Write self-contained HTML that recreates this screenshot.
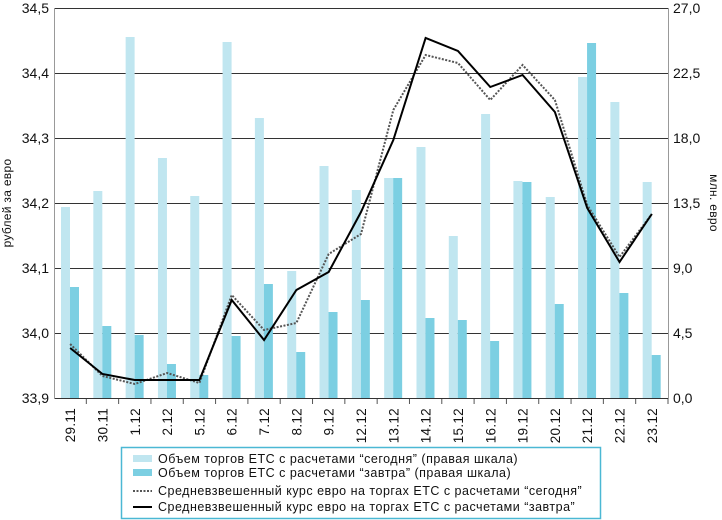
<!DOCTYPE html><html><head><meta charset="utf-8"><style>body{margin:0;background:#fff}svg{display:block}text{font-family:"Liberation Sans",sans-serif;fill:#111}</style></head><body>
<svg width="722" height="520" xmlns="http://www.w3.org/2000/svg">
<g stroke="#333" stroke-width="1">
<line x1="54" y1="8.5" x2="668" y2="8.5"/><line x1="54" y1="73.5" x2="668" y2="73.5"/><line x1="54" y1="138.5" x2="668" y2="138.5"/><line x1="54" y1="203.5" x2="668" y2="203.5"/><line x1="54" y1="268.5" x2="668" y2="268.5"/><line x1="54" y1="333.5" x2="668" y2="333.5"/>
</g>
<g id="bars"></g>
<line x1="54" y1="398.5" x2="668" y2="398.5" stroke="#333"/>
<line x1="54.5" y1="8" x2="54.5" y2="399" stroke="#999"/>
<line x1="668.5" y1="8" x2="668.5" y2="399" stroke="#999"/>
<g id="ticks" stroke="#555"></g>
<polyline id="dot" fill="none" stroke="#555" stroke-width="2" stroke-dasharray="2,1.5"/>
<polyline id="sol" fill="none" stroke="#000" stroke-width="2"/>
<g font-size="14" text-anchor="end">
<text x="49" y="13">34,5</text><text x="49" y="78">34,4</text><text x="49" y="143">34,3</text><text x="49" y="208">34,2</text><text x="49" y="273">34,1</text><text x="49" y="338">34,0</text><text x="49" y="403">33,9</text>
</g>
<g font-size="14">
<text x="673" y="13">27,0</text><text x="673" y="78">22,5</text><text x="673" y="143">18,0</text><text x="673" y="208">13,5</text><text x="673" y="273">9,0</text><text x="673" y="338">4,5</text><text x="673" y="403">0,0</text>
</g>
<text font-size="12" letter-spacing="0.3" transform="translate(11,203) rotate(-90)" text-anchor="middle">рублей за евро</text>
<text font-size="12" letter-spacing="0.3" transform="translate(710,203) rotate(90)" text-anchor="middle">млн. евро</text>
<g id="labels" font-size="13.5" letter-spacing="0.3"></g>
<rect x="121.5" y="447.5" width="479" height="71" fill="none" stroke="#4bb8d4" stroke-width="1.5"/>
<rect x="133" y="455" width="19" height="7" fill="#c0e6f0"/>
<rect x="133" y="469" width="19" height="7" fill="#7ccfe2"/>
<line x1="133" y1="491" x2="152" y2="491" stroke="#555" stroke-width="2" stroke-dasharray="2,1.5"/>
<line x1="133" y1="507" x2="152" y2="507" stroke="#000" stroke-width="2"/>
<g font-size="12.5" letter-spacing="0.5">
<text x="158" y="463">Объем торгов ЕТС с расчетами “сегодня” (правая шкала)</text>
<text x="158" y="477">Объем торгов ЕТС с расчетами “завтра” (правая шкала)</text>
<text x="158" y="495">Средневзвешенный курс евро на торгах ЕТС с расчетами “сегодня”</text>
<text x="158" y="511">Средневзвешенный курс евро на торгах ЕТС с расчетами “завтра”</text>
</g>
<script>
var L=["29.11","30.11","1.12","2.12","5.12","6.12","7.12","8.12","9.12","12.12","13.12","14.12","15.12","16.12","19.12","20.12","21.12","22.12","23.12"];
var lt=[207,191,37,158,196,42,118,271,166,190,178,147,236,114,181,197,77,102,182];
var dk=[287,326,335,364,375,336,284,352,312,300,178,318,320,341,182,304,43,293,355];
var so=[348,374,380,380,380,300,340,290,272,212,140,38,51,87,75,112,208,262,214];
var dt=[344,376,384,373,383,295,330,323,254,234,110,55,63,100,65,100,205,257,214];
var w=614/19,ns="http://www.w3.org/2000/svg",b=document.getElementById("bars"),tk=document.getElementById("ticks"),lb=document.getElementById("labels");
function el(t,a,p){var e=document.createElementNS(ns,t);for(var k in a)e.setAttribute(k,a[k]);p.appendChild(e);return e;}
var ps="",pd="";
for(var i=0;i<19;i++){var x0=54+w*i,c=x0+w/2;
el("rect",{x:x0+7,y:lt[i],width:9,height:398-lt[i],fill:"#c0e6f0"},b);
el("rect",{x:x0+16,y:dk[i],width:9,height:398-dk[i],fill:"#7ccfe2"},b);
el("line",{x1:x0+w,y1:399,x2:x0+w,y2:404},tk);
ps+=c+","+so[i]+" ";pd+=c+","+dt[i]+" ";
var t=el("text",{transform:"translate("+(c+5)+",408) rotate(-90)","text-anchor":"end"},lb);t.textContent=L[i];}
document.getElementById("sol").setAttribute("points",ps);
document.getElementById("dot").setAttribute("points",pd);
</script>
</svg></body></html>
